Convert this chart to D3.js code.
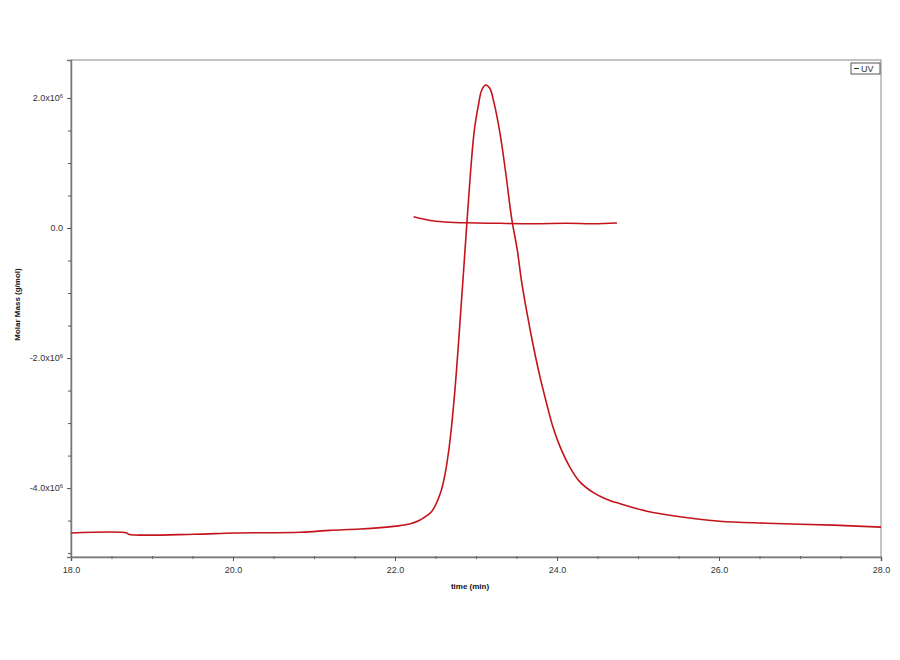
<!DOCTYPE html>
<html>
<head>
<meta charset="utf-8">
<script src="https://cdn.jsdelivr.net/npm/d3@7/dist/d3.min.js"></script>
<style>
  body { margin: 0; background: #fff; }
  text { font-family: "Liberation Sans", Arial, sans-serif; }
</style>
</head>
<body>
<svg id="chart" width="900" height="660"></svg>
<script>
// ---- data ----
const uvTime = [18.00, 18.69, 18.71, 19.52, 20.01, 20.83, 21.20, 21.57, 22.01, 22.19, 22.31, 22.45,
  22.56, 22.62, 22.68, 22.74, 22.80, 22.86, 22.93, 22.98, 23.03, 23.07, 23.12, 23.17, 23.22,
  23.30, 23.37, 23.44, 23.51, 23.56, 23.63, 23.71, 23.79, 23.87, 23.95, 24.04, 24.16, 24.28,
  24.45, 24.61, 24.78, 25.11, 25.52, 26.01, 26.59, 27.41, 28.00];
const uvValue = [-4.69e6, -4.69e6, -4.71e6, -4.71e6, -4.69e6, -4.68e6, -4.65e6, -4.63e6, -4.585e6,
  -4.55e6, -4.49e6, -4.365e6, -4.08e6, -3.77e6, -3.26e6, -2.49e6, -1.49e6, -0.42e6, 0.82e6,
  1.51e6, 1.89e6, 2.12e6, 2.20e6, 2.15e6, 1.94e6, 1.43e6, 0.82e6, 0.15e6, -0.34e6, -0.80e6,
  -1.31e6, -1.83e6, -2.29e6, -2.69e6, -3.06e6, -3.37e6, -3.68e6, -3.90e6, -4.07e6, -4.17e6,
  -4.24e6, -4.355e6, -4.44e6, -4.51e6, -4.54e6, -4.57e6, -4.60e6];

const massTime = [22.23, 22.46, 22.67, 22.88, 23.30, 23.71, 24.12, 24.45, 24.74];
const massValue = [0.174e6, 0.112e6, 0.088e6, 0.082e6, 0.072e6, 0.066e6, 0.072e6, 0.066e6, 0.077e6];

const xTicks = [18, 20, 22, 24, 26, 28];
const xTickLabels = ["18.0", "20.0", "22.0", "24.0", "26.0", "28.0"];
const yTicks = [-4e6, -2e6, 0, 2e6];
const yTickLabels = ["-4.0x10", "-2.0x10", "0.0", "2.0x10"];
const yTickExp = ["6", "6", "", "6"];
const xDomain = [18, 28];
const yDomain = [-5.06e6, 2.585e6];
const seriesName = "UV";
const xTitle = "time (min)";
const yTitle = "Molar Mass (g/mol)";

// ---- layout ----
const L = 71, R = 881, T = 60, B = 557;
const lineColor = "#c4141b";
const svg = d3.select("#chart");

const x = d3.scaleLinear().domain(xDomain).range([L, R]);
const y = d3.scaleLinear().domain(yDomain).range([B, T]);

// frame
svg.append("rect").attr("x", L).attr("y", T).attr("width", R - L).attr("height", B - T)
  .attr("fill", "none").attr("stroke", "#8a8a8a").attr("stroke-width", 1);

// x minor ticks
const xMinor = d3.range(18, 28.001, 0.5).filter(v => Math.abs(v % 2) > 1e-6);
svg.append("g").attr("transform", `translate(0,${B})`)
  .call(d3.axisBottom(x).tickValues(xMinor).tickSize(3).tickFormat(""))
  .call(g => g.select(".domain").remove())
  .call(g => g.selectAll("line").attr("stroke", "#555").attr("y1", -1).attr("y2", 2));

// x major axis
svg.append("g").attr("transform", `translate(0,${B})`)
  .call(d3.axisBottom(x).tickValues(xTicks).tickSize(4).tickPadding(6)
    .tickFormat((d, i) => xTickLabels[i]))
  .call(g => g.select(".domain").attr("stroke", "#777").attr("stroke-width", 1.5))
  .call(g => g.selectAll("line").attr("stroke", "#555"))
  .call(g => g.selectAll("text").attr("fill", "#333").style("font-size", "9px")
    .style("font-family", "'Liberation Sans', Arial, sans-serif"));

// y minor ticks
const yMinor = d3.range(-5e6, 2.0e6 + 1, 0.5e6).filter(v => Math.abs(v % 2e6) > 1);
svg.append("g").attr("transform", `translate(${L},0)`)
  .call(d3.axisLeft(y).tickValues(yMinor).tickSize(3).tickFormat(""))
  .call(g => g.select(".domain").remove())
  .call(g => g.selectAll("line").attr("stroke", "#555"));

// y major axis
const yAxisG = svg.append("g").attr("transform", `translate(${L},0)`)
  .call(d3.axisLeft(y).tickValues(yTicks).tickSize(4).tickPadding(4).tickFormat(""))
  .call(g => g.select(".domain").attr("stroke", "#777").attr("stroke-width", 1.5))
  .call(g => g.selectAll("line").attr("stroke", "#555"));

yAxisG.selectAll(".tick").each(function (d, i) {
  const t = d3.select(this).select("text")
    .attr("fill", "#333").style("font-size", "9px")
    .style("font-family", "'Liberation Sans', Arial, sans-serif")
    .attr("x", -8).attr("dy", "0.32em");
  t.text(null);
  t.append("tspan").text(yTickLabels[i]);
  if (yTickExp[i]) {
    t.append("tspan").attr("dy", "-0.55em").style("font-size", "6px").text(yTickExp[i]);
  }
});

// titles
svg.append("text").attr("x", 470).attr("y", 589).attr("text-anchor", "middle")
  .style("font-size", "8px").style("font-weight", "bold").attr("fill", "#111").text(xTitle);
svg.append("text").attr("transform", `translate(20,${(T + B) / 2 - 4}) rotate(-90)`)
  .attr("text-anchor", "middle")
  .style("font-size", "8px").style("font-weight", "bold").attr("fill", "#111").text(yTitle);

// lines
const uvData = uvTime.map((t, i) => [t, uvValue[i]]);
const massData = massTime.map((t, i) => [t, massValue[i]]);
const line = d3.line().x(d => x(d[0])).y(d => y(d[1])).curve(d3.curveCatmullRom.alpha(0.5));

svg.append("path").datum(uvData).attr("d", line)
  .attr("fill", "none").attr("stroke", lineColor).attr("stroke-width", 1.6);
svg.append("path").datum(massData).attr("d", line)
  .attr("fill", "none").attr("stroke", lineColor).attr("stroke-width", 1.5);

// legend
const lg = svg.append("g").attr("transform", `translate(851,63)`);
lg.append("rect").attr("width", 29).attr("height", 11).attr("fill", "#fff")
  .attr("stroke", "#555").attr("stroke-width", 1);
lg.append("line").attr("x1", 3).attr("x2", 8).attr("y1", 5.5).attr("y2", 5.5)
  .attr("stroke", "#333").attr("stroke-width", 1);
lg.append("text").attr("x", 10).attr("y", 8.8).style("font-size", "9px")
  .attr("fill", "#333").text(seriesName);
</script>
</body>
</html>
